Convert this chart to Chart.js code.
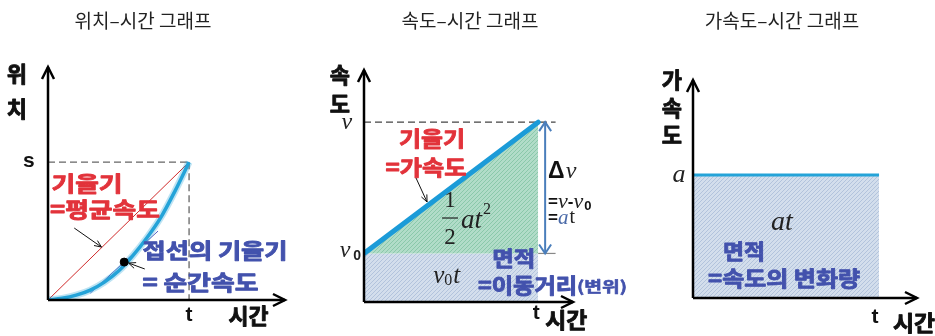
<!DOCTYPE html>
<html>
<head>
<meta charset="utf-8">
<script src="https://cdn.jsdelivr.net/npm/chart.js@4.4.0/dist/chart.umd.min.js"></script>
<style>
  html, body { margin: 0; padding: 0; background: #fff; overflow: hidden; }
  canvas { position: absolute; top: 0; }
</style>
</head>
<body>
<canvas id="c1" width="310" height="336" style="left:0"></canvas>
<canvas id="c2" width="320" height="336" style="left:310px"></canvas>
<canvas id="c3" width="305" height="336" style="left:630px"></canvas>
<script>
// position-time
const posT = [0, 0.1, 0.2, 0.3, 0.4, 0.5, 0.6, 0.7, 0.8, 0.9, 1.0];
const posS = [0, 0.012, 0.035, 0.072, 0.13, 0.21, 0.32, 0.45, 0.6, 0.79, 1.0];
const avgT = [0, 1];
const avgS = [0, 1];
const tanT = [0.3, 0.78];
const tanS = [0.05, 0.5];
const dotT = [0.54];
const dotS = [0.275];

// velocity-time
const velT = [0, 1];
const velV = [0.27, 1];
const v0 = 0.27;

// acceleration-time
const accT = [0, 1];
const accA = [1, 1];

const titles = ['위치–시간 그래프', '속도–시간 그래프', '가속도–시간 그래프'];
const axisNames = [['위', '치'], ['속', '도'], ['가', '속', '도']];
const timeName = '시간';

const RED = '#e2333b';
const BLUE = '#4352ad';
const CYAN = '#24a3d8';
const KR = "'Noto Sans CJK KR', sans-serif";
const SERIF = "'Liberation Serif', 'DejaVu Serif', serif";
const SANS = "'Liberation Sans', Arial, sans-serif";

function pts(xs, ys) {
    return xs.map((x, i) => ({ x: x, y: ys[i] }));
}

function hatch(base, line) {
    const c = document.createElement('canvas');
    c.width = 4; c.height = 4;
    const g = c.getContext('2d');
    g.fillStyle = base;
    g.fillRect(0, 0, 4, 4);
    g.strokeStyle = line;
    g.lineWidth = 1;
    g.beginPath();
    g.moveTo(0, 4); g.lineTo(4, 0);
    g.stroke();
    return g.createPattern(c, 'repeat');
}

function P(chart, x, y) {
    return [chart.scales.x.getPixelForValue(x), chart.scales.y.getPixelForValue(y)];
}

// draw text; if width given, stretch horizontally to that width; heavy adds a thin outline
function txt(ctx, s, p, font, color, align, width, heavy) {
    ctx.save();
    ctx.font = font;
    ctx.fillStyle = color;
    ctx.textAlign = align || 'left';
    ctx.textBaseline = 'middle';
    let w = ctx.measureText(s).width;
    let sx = width ? width / w : 1;
    ctx.translate(p[0], p[1]);
    ctx.scale(sx, 1);
    ctx.fillText(s, 0, 0);
    if (heavy) {
        ctx.strokeStyle = color;
        ctx.lineWidth = heavy;
        ctx.lineJoin = 'round';
        ctx.strokeText(s, 0, 0);
    }
    ctx.restore();
    return w * sx;
}

function line(ctx, a, b, color, w, dash) {
    ctx.save();
    ctx.strokeStyle = color;
    ctx.lineWidth = w;
    ctx.setLineDash(dash || []);
    ctx.beginPath();
    ctx.moveTo(a[0], a[1]);
    ctx.lineTo(b[0], b[1]);
    ctx.stroke();
    ctx.restore();
}

function head(ctx, from, to, color, w, len, half) {
    const ang = Math.atan2(to[1] - from[1], to[0] - from[0]);
    ctx.save();
    ctx.strokeStyle = color;
    ctx.lineWidth = w;
    ctx.beginPath();
    ctx.moveTo(to[0] - len * Math.cos(ang) + half * Math.sin(ang), to[1] - len * Math.sin(ang) - half * Math.cos(ang));
    ctx.lineTo(to[0], to[1]);
    ctx.lineTo(to[0] - len * Math.cos(ang) - half * Math.sin(ang), to[1] - len * Math.sin(ang) + half * Math.cos(ang));
    ctx.stroke();
    ctx.restore();
}

function drawAxes(ctx, chart) {
    const sx = chart.scales.x, sy = chart.scales.y;
    const o = [sx.getPixelForValue(0), sy.getPixelForValue(0)];
    const top = [o[0], sy.getPixelForValue(sy.max)];
    const right = [sx.getPixelForValue(sx.max), o[1]];
    line(ctx, o, top, '#000', 2.5);
    line(ctx, o, right, '#000', 2.5);
    head(ctx, o, top, '#000', 2.5, 12, 6);
    head(ctx, o, right, '#000', 2.5, 12, 6);
}

function drawTitle(ctx, chart, i, cx) {
    txt(ctx, titles[i], [cx, 21], "19px " + KR, '#222', 'center');
}

function baseOptions(xmax, ymax, pad) {
    return {
        responsive: false,
        animation: false,
        events: [],
        layout: { padding: pad },
        plugins: { legend: { display: false }, tooltip: { enabled: false } },
        scales: {
            x: { type: 'linear', display: false, min: 0, max: xmax },
            y: { type: 'linear', display: false, min: 0, max: ymax }
        },
        elements: { point: { radius: 0 }, line: { tension: 0 } }
    };
}

const KB = "bold 21px " + KR;
const AX = "bold 22px " + KR;
const H = 0.9;

// ---------- panel 1 ----------
new Chart(document.getElementById('c1'), {
    type: 'line',
    data: {
        datasets: [
            { data: pts(dotT, dotS), showLine: false, pointRadius: 4, pointBackgroundColor: '#000', pointBorderColor: '#000' },
            { data: pts(posT, posS), borderColor: CYAN, borderWidth: 3.5, cubicInterpolationMode: 'monotone' },
            { data: pts(posT, posS), borderColor: 'rgba(36,163,216,0.3)', borderWidth: 7, cubicInterpolationMode: 'monotone' },
            { data: pts(tanT, tanS), borderColor: '#5660c0', borderWidth: 1 },
            { data: pts(avgT, avgS), borderColor: '#d02a2a', borderWidth: 1 }
        ]
    },
    options: baseOptions(1.68, 1.69, { left: 48, right: 25, top: 67, bottom: 36 }),
    plugins: [{
        id: 'deco1',
        beforeDatasetsDraw(chart) {
            const ctx = chart.ctx;
            line(ctx, P(chart, 0, 1), P(chart, 1, 1), '#666', 1.3, [7, 4]);
            line(ctx, P(chart, 1, 1), P(chart, 1, 0), '#666', 1.3, [7, 4]);
        },
        afterDraw(chart) {
            const ctx = chart.ctx;
            drawTitle(ctx, chart, 0, 143);
            drawAxes(ctx, chart);
            txt(ctx, axisNames[0][0], P(chart, -0.221, 1.64), AX, '#111', 'center', null, H);
            txt(ctx, axisNames[0][1], P(chart, -0.221, 1.385), AX, '#111', 'center', null, H);
            txt(ctx, 's', P(chart, -0.136, 1.007), "bold 21px " + SANS, '#111', 'center');
            txt(ctx, 't', P(chart, 1.0, -0.109), "bold 21px " + SANS, '#111', 'center');
            txt(ctx, timeName, P(chart, 1.421, -0.115), AX, '#111', 'center', 40, H);
            txt(ctx, '기울기', P(chart, 0.025, 0.848), KB, RED, 'left', 71, H);
            txt(ctx, '=평균속도', P(chart, 0.014, 0.659), KB, RED, 'left', 110, H);
            txt(ctx, '접선의 기울기', P(chart, 0.67, 0.362), KB, BLUE, 'left', 145, H);
            txt(ctx, '= 순간속도', P(chart, 0.67, 0.13), KB, BLUE, 'left', 116, H);
            const a1 = P(chart, 0.186, 0.522), b1 = P(chart, 0.379, 0.384);
            line(ctx, a1, b1, '#111', 1);
            head(ctx, a1, b1, '#111', 1, 7, 3);
            const a2 = P(chart, 0.686, 0.225), b2 = P(chart, 0.571, 0.268);
            line(ctx, a2, b2, '#111', 1);
            head(ctx, a2, b2, '#111', 1, 7, 3);
        }
    }]
});

// ---------- panel 2 ----------
new Chart(document.getElementById('c2'), {
    type: 'line',
    data: {
        datasets: [
            { data: pts(velT, velV), borderColor: '#1b9bd8', borderWidth: 5, borderCapStyle: 'round',
              fill: { value: v0 }, backgroundColor: hatch('#b1dcc8', '#8ac8aa') },
            { data: pts(velT, velT.map(() => v0)), borderWidth: 0, borderColor: 'rgba(0,0,0,0)',
              fill: 'origin', backgroundColor: hatch('#d3deec', '#b2c3dc') }
        ]
    },
    options: baseOptions(1.2, 1.29, { left: 54, right: 57, top: 70, bottom: 34 }),
    plugins: [{
        id: 'deco2',
        beforeDatasetsDraw(chart) {
            const ctx = chart.ctx;
            line(ctx, P(chart, 0, 1), P(chart, 1.1, 1), '#444', 1.2, [7, 4]);
            line(ctx, P(chart, 1, v0), P(chart, 1.1, v0), '#888', 1.2);
        },
        afterDraw(chart) {
            const ctx = chart.ctx;
            drawTitle(ctx, chart, 1, 160);
            drawAxes(ctx, chart);
            const it = "italic 24px " + SERIF;
            txt(ctx, axisNames[1][0], P(chart, -0.138, 1.265), AX, '#111', 'center', null, H);
            txt(ctx, axisNames[1][1], P(chart, -0.138, 1.105), AX, '#111', 'center', null, H);
            txt(ctx, 'v', P(chart, -0.098, 0.995), it, '#222', 'center');
            txt(ctx, 'v', P(chart, -0.109, 0.285), it, '#222', 'center');
            txt(ctx, '0', P(chart, -0.04, 0.255), "bold 14px " + SANS, '#222', 'center');
            // double arrow for delta v
            const top = P(chart, 1.04, 1), bot = P(chart, 1.04, v0);
            line(ctx, top, bot, '#4a7ebb', 2);
            head(ctx, bot, top, '#4a7ebb', 2, 9, 6);
            head(ctx, top, bot, '#4a7ebb', 2, 9, 6);
            txt(ctx, '기울기', P(chart, 0.39, 0.911), KB, RED, 'center', 66, H);
            txt(ctx, '=가속도', P(chart, 0.356, 0.75), KB, RED, 'center', 81, H);
            const a1 = P(chart, 0.299, 0.689), b1 = P(chart, 0.362, 0.556);
            line(ctx, a1, b1, '#111', 1);
            head(ctx, a1, b1, '#111', 1, 7, 3);
            // 1/2 a t^2
            const f = "23px " + SERIF;
            txt(ctx, '1', P(chart, 0.494, 0.561), f, '#222', 'center');
            line(ctx, P(chart, 0.448, 0.467), P(chart, 0.54, 0.467), '#222', 1.2);
            txt(ctx, '2', P(chart, 0.494, 0.356), f, '#222', 'center');
            let p = P(chart, 0.557, 0.45);
            const w = txt(ctx, 'at', p, "italic 27px " + SERIF, '#222');
            txt(ctx, '2', [p[0] + w + 5, p[1] - 11], "16px " + SERIF, '#222', 'center');
            // v0 t
            p = P(chart, 0.397, 0.14);
            let w2 = txt(ctx, 'v', p, "italic 25px " + SERIF, '#222');
            w2 += txt(ctx, '0', [p[0] + w2, p[1] + 4], "16px " + SERIF, '#222');
            txt(ctx, 't', [p[0] + w2 + 1, p[1]], "italic 25px " + SERIF, '#222');
            // delta v
            p = P(chart, 1.057, 0.722);
            const wd = txt(ctx, 'Δ', p, "bold 23px " + SANS, '#111');
            txt(ctx, 'v', [p[0] + wd + 1, p[1]], it, '#222');
            p = P(chart, 1.057, 0.556);
            let x = p[0];
            x += txt(ctx, '=', [x, p[1]], "bold 17px " + SANS, '#111');
            x += txt(ctx, 'v', [x, p[1]], "italic 22px " + SERIF, '#222');
            x += txt(ctx, '-', [x, p[1]], "bold 17px " + SANS, '#111');
            x += txt(ctx, 'v', [x, p[1]], "italic 22px " + SERIF, '#222');
            txt(ctx, '0', [x + 1, p[1] + 4], "bold 13px " + SANS, '#111');
            p = P(chart, 1.057, 0.467);
            x = p[0];
            x += txt(ctx, '=', [x, p[1]], "bold 17px " + SANS, '#111');
            x += txt(ctx, 'a', [x, p[1]], "italic 21px " + SERIF, '#4a6aa8');
            txt(ctx, 't', [x + 1, p[1]], "20px " + SERIF, '#222');
            // area
            txt(ctx, '면적', P(chart, 0.736, 0.244), KB, BLUE, 'left', 43, H);
            p = P(chart, 0.655, 0.094);
            const wm = txt(ctx, '=이동거리', p, KB, BLUE, 'left', 99, H);
            txt(ctx, '(변위)', [p[0] + wm, p[1] + 1], "bold 15px " + KR, BLUE, 'left', 50, 0.6);
            txt(ctx, 't', P(chart, 0.989, -0.061), "bold 21px " + SANS, '#111', 'center');
            txt(ctx, timeName, P(chart, 1.161, -0.1), AX, '#111', 'center', 42, H);
        }
    }]
});

// ---------- panel 3 ----------
new Chart(document.getElementById('c3'), {
    type: 'line',
    data: {
        datasets: [
            { data: pts(accT, accA), borderColor: CYAN, borderWidth: 3,
              fill: 'origin', backgroundColor: hatch('#d3deec', '#b2c3dc') }
        ]
    },
    options: baseOptions(1.204, 1.772, { left: 63, right: 18, top: 80, bottom: 38 }),
    plugins: [{
        id: 'deco3',
        afterDraw(chart) {
            const ctx = chart.ctx;
            drawTitle(ctx, chart, 2, 152);
            drawAxes(ctx, chart);
            txt(ctx, axisNames[2][0], P(chart, -0.113, 1.775), AX, '#111', 'center', null, H);
            txt(ctx, axisNames[2][1], P(chart, -0.113, 1.547), AX, '#111', 'center', null, H);
            txt(ctx, axisNames[2][2], P(chart, -0.113, 1.327), AX, '#111', 'center', null, H);
            txt(ctx, 'a', P(chart, -0.075, 1.0), "italic 26px " + SERIF, '#222', 'center');
            txt(ctx, 'at', P(chart, 0.478, 0.61), "italic 28px " + SERIF, '#222', 'center');
            txt(ctx, '면적', P(chart, 0.161, 0.382), KB, BLUE, 'left', 42, H);
            txt(ctx, '=속도의 변화량', P(chart, 0.081, 0.163), KB, BLUE, 'left', 152, H);
            txt(ctx, 't', P(chart, 0.978, -0.154), "bold 21px " + SANS, '#111', 'center');
            txt(ctx, timeName, P(chart, 1.188, -0.2), AX, '#111', 'center', 42, H);
        }
    }]
});
</script>
</body>
</html>
